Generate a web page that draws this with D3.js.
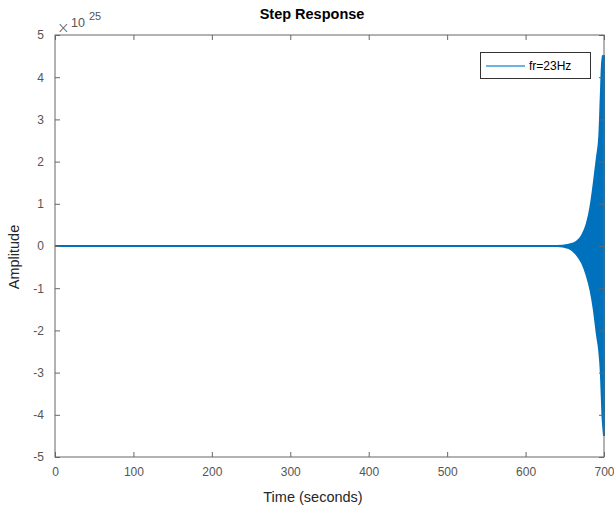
<!DOCTYPE html>
<html>
<head>
<meta charset="utf-8">
<script src="https://cdn.jsdelivr.net/npm/d3@7"></script>
<style>
  body { margin: 0; background: #fff; }
  svg { font-family: "Liberation Sans", Arial, sans-serif; }
</style>
</head>
<body>
<div id="vis"></div>
<script>
// envelope of the step response (units of 1e25)
const times = [0, 640, 655, 665, 672, 678, 683, 687, 691, 694, 696, 698, 700];
const upper = [0, 0, 0.03, 0.1, 0.25, 0.52, 0.95, 1.49, 2.1, 2.6, 3.6, 4.5, 4.5];
const lower = [0, 0, -0.05, -0.2, -0.4, -0.7, -1.06, -1.5, -2.1, -2.5, -3.0, -4.0, -4.5];
const xTicks = [0, 100, 200, 300, 400, 500, 600, 700];
const yTicks = [-5, -4, -3, -2, -1, 0, 1, 2, 3, 4, 5];
const seriesName = "fr=23Hz";

const width = 614, height = 509;
const mLeft = 55, mRight = 604, mTop = 35, mBottom = 457;
const lineColor = "#0072BD";
const axisColor = "#666";
const tickText = "#555";

const x = d3.scaleLinear().domain([0, 700]).range([mLeft, mRight]);
const y = d3.scaleLinear().domain([-5, 5]).range([mBottom, mTop]);

const svg = d3.select("#vis").append("svg")
  .attr("width", width).attr("height", height);

const pts = times.map((t, i) => ({t: t, hi: upper[i], lo: lower[i]}));

// the oscillation is so dense it shows as a filled band
const area = d3.area()
  .x(d => x(d.t))
  .y0(d => y(d.lo))
  .y1(d => y(d.hi))
  .curve(d3.curveMonotoneX);

svg.append("path").datum(pts)
  .attr("d", area)
  .attr("fill", lineColor)
  .attr("stroke", lineColor)
  .attr("stroke-width", 2);

// box
svg.append("rect")
  .attr("x", mLeft).attr("y", mTop)
  .attr("width", mRight - mLeft).attr("height", mBottom - mTop)
  .attr("fill", "none").attr("stroke", axisColor).attr("stroke-width", 1);

const plain = d => String(d);  // hyphen minus like matlab

// x axis bottom + mirrored ticks on top
const xAxis = svg.append("g").attr("transform", `translate(0,${mBottom})`)
  .call(d3.axisBottom(x).tickValues(xTicks).tickSize(-5).tickPadding(10).tickFormat(plain));
const xTop = svg.append("g").attr("transform", `translate(0,${mTop})`)
  .call(d3.axisTop(x).tickValues(xTicks).tickSize(-5).tickFormat(""));

const yAxis = svg.append("g").attr("transform", `translate(${mLeft},0)`)
  .call(d3.axisLeft(y).tickValues(yTicks).tickSize(-5).tickPadding(11).tickFormat(plain));
const yRight = svg.append("g").attr("transform", `translate(${mRight},0)`)
  .call(d3.axisRight(y).tickValues(yTicks).tickSize(-5).tickFormat(""));

[xAxis, xTop, yAxis, yRight].forEach(g => {
  g.select(".domain").remove();
  g.selectAll("line").attr("stroke", axisColor);
  g.selectAll("text").attr("fill", tickText)
    .style("font-size", "12px").style("font-family", "'Liberation Sans', Arial, sans-serif");
});

// exponent label
svg.append("text").attr("x", 57).attr("y", 33)
  .attr("fill", tickText).style("font-size", "15px").style("font-family", "'DejaVu Sans', sans-serif")
  .style("font-weight", "200").text("\u00d7");
svg.append("text").attr("x", 71).attr("y", 27)
  .attr("fill", tickText).style("font-size", "12.5px").text("10");
svg.append("text").attr("x", 89).attr("y", 20)
  .attr("fill", tickText).style("font-size", "11px").text("25");

// title and labels
svg.append("text").attr("x", 312).attr("y", 19)
  .attr("text-anchor", "middle").style("font-weight", "bold").style("font-size", "14.5px")
  .attr("fill", "#000").text("Step Response");

svg.append("text").attr("x", 313).attr("y", 502)
  .attr("text-anchor", "middle").style("font-size", "14.5px")
  .attr("fill", "#262626").text("Time (seconds)");

svg.append("text").attr("transform", "translate(19,257) rotate(-90)")
  .attr("text-anchor", "middle").style("font-size", "14.5px")
  .attr("fill", "#262626").text("Amplitude");

// legend
const leg = svg.append("g");
leg.append("rect").attr("x", 480.5).attr("y", 52.5).attr("width", 110).attr("height", 26)
  .attr("fill", "#fff").attr("stroke", "#333").attr("stroke-width", 1);
leg.append("line").attr("x1", 486).attr("x2", 525).attr("y1", 66).attr("y2", 66)
  .attr("stroke", "#3d9ad6").attr("stroke-width", 1.5);
leg.append("text").attr("x", 529).attr("y", 70)
  .style("font-size", "12px").attr("fill", "#000").text(seriesName);
</script>
</body>
</html>
